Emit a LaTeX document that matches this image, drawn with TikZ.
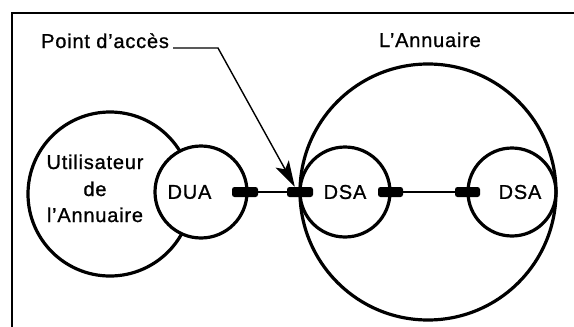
\documentclass[tikz,border=0pt]{standalone}
\usepackage{fontspec}
\setmainfont{Liberation Sans}[LetterSpace=4, FakeBold=1]
\usetikzlibrary{arrows.meta}

\tikzset{
	ring/.style={circle, draw, line width=3.2pt, inner sep=0pt},
	port/.style={fill=black, inner sep=0pt, minimum height=10pt, rounded corners=2.5pt},
	link/.style={line width=1.4pt},
	txt/.style={inner sep=0pt, font=\fontsize{20}{24}\selectfont},
}

\begin{document}
\begin{tikzpicture}[x=1pt,y=1pt,yscale=-1]
	\useasboundingbox (0,0) rectangle (574,327);
	
	%Frame
	\draw [line width=2.2pt] (12,327) -- (12,13) -- (574,13) ;
	
	%Shape: Circle
	\node [ring, minimum size=164pt] (user) at (110,194) {};
	%Shape: Circle
	\node [ring, fill=white, minimum size=92pt] (dua) at (201,192) {};
	%Shape: Circle
	\node [ring, minimum size=256pt] (annuaire) at (428,192) {};
	%Shape: Circle
	\node [ring, minimum size=90pt] (dsaA) at (345,192) {};
	%Shape: Circle
	\node [ring, minimum size=88pt] (dsaB) at (512,192) {};
	
	%Shape: Port
	\node [port, minimum width=26pt] (duaPort) at (245,192) {};
	%Shape: Port
	\node [port, minimum width=26pt] (dsaPortA) at (300,192) {};
	%Shape: Port
	\node [port, minimum width=25pt] (dsaPortB) at (390.5,192) {};
	%Shape: Port
	\node [port, minimum width=25pt] (dsaPortC) at (467.5,192) {};
	
	%Straight Lines
	\draw [link] (duaPort) -- (dsaPortA) ;
	%Straight Lines
	\draw [link] (dsaPortB) -- (dsaPortC) ;
	
	% Text Node
	\node [txt, anchor=base west] (acces) at (41,48) {Point d’accès};
	% Text Node
	\node [txt, anchor=base] (annuaireTxt) at (430,47) {L’Annuaire};
	% Text Node
	\node [txt, anchor=base] (userTxtA) at (95,169) {Utilisateur};
	% Text Node
	\node [txt, anchor=base] (userTxtB) at (95,196) {de};
	% Text Node
	\node [txt, anchor=base] (userTxtC) at (95,222) {l’Annuaire};
	% Text Node
	\node [txt] (duaTxt) at (189.5,192) {DUA};
	% Text Node
	\node [txt] (dsaTxtA) at (345,192) {DSA};
	% Text Node
	\node [txt] (dsaTxtB) at (520,192) {DSA};
	
	%Leader with arrow
	\coordinate (knee) at (218,48) ;
	\draw [line width=1.4pt, -{Stealth[length=26pt,width=15pt,inset=6pt]}] ([xshift=4pt]acces.base east) -- (knee) -- ([xshift=8pt]dsaPortA.north west) ;
	
\end{tikzpicture}
\end{document}
